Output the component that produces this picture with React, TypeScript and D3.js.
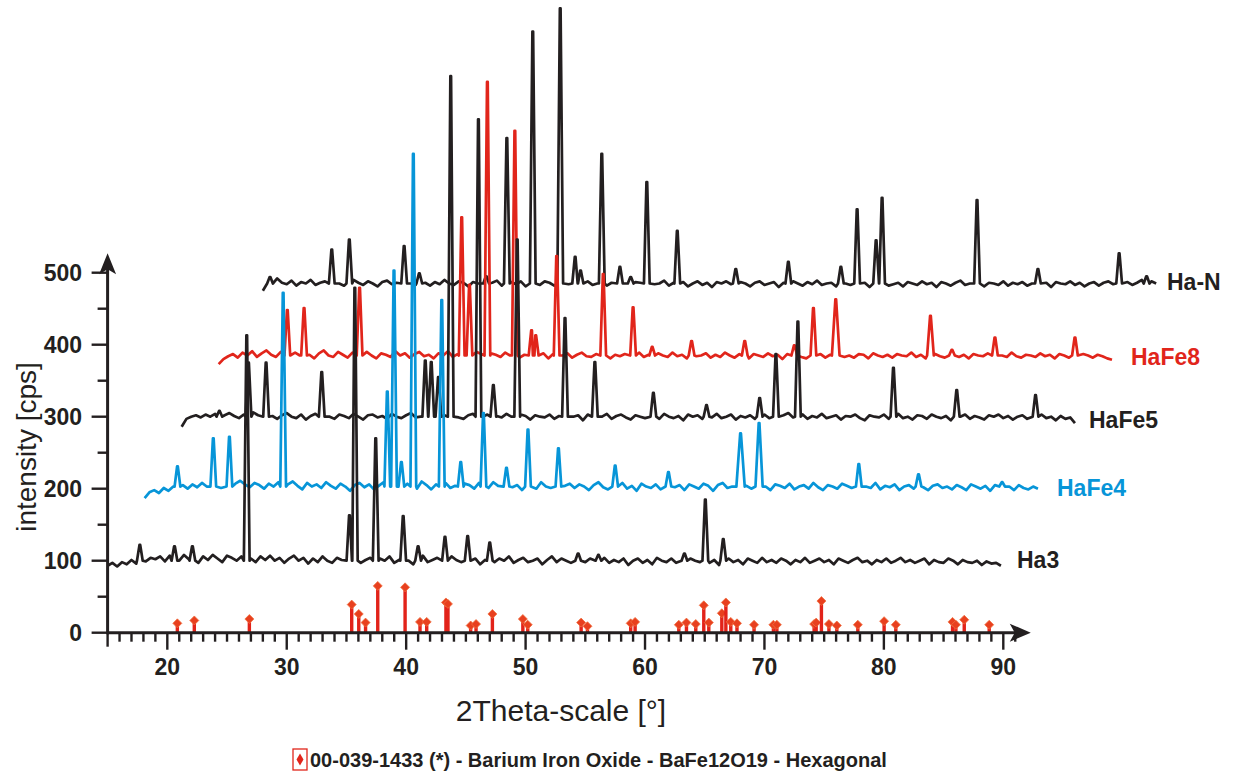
import React from 'react';
import * as d3 from 'd3';

// sample step of the typed noise arrays, in degrees 2theta
const STEP = 0.4;

// Ha3 (black, bottom)
const ha3Start = 15.0;
const ha3Base = 100;
const ha3Noise = [
  -7, -3, -8, -2, -5, 1, -4, 3, -1, 4, 2, 6, -1, 7, 3, 0, 8, 2, 4, -3,
  6, 1, 8, 3, -2, 7, 4, 0, 6, 9, 3, -2, 6, 1, 7, 0, 4, -3, 3, 7,
  0, 4, -4, 3, -2, 6, 0, -3, 4, 1, -2, 3, 6, -3, 1, 4, -2, 3, 0, 6,
  -3, 1, 4, 0, -5, 3, 7, -2, 1, 4, 0, -3, 6, 1, -2, 4, 0, 3, -5, 1,
  4, -2, 3, 0, 6, -3, 1, 4, -2, 0, 3, -5, 1, 6, -2, 3, 0, -3, 4, 1,
  -2, 3, -4, 0, 4, -3, 1, -2, 3, -6, 0, 3, -3, 1, -5, 4, 0, -2, 3, -3,
  1, -5, 3, 0, -2, 4, -3, 1, -6, 0, 3, -2, 1, -5, 3, 0, -3, 4, -2, 1,
  -3, 3, 0, -5, 1, -2, 4, -3, 0, 3, -2, 1, -5, 3, 0, -3, 1, 4, -2, 0,
  -5, 1, -2, 3, -3, 0, 4, -2, 1, -3, 0, 3, -5, 1, -2, -3, 3, 0, -5, 1,
  -2, -3, 0, -6, -1, -4, -3, -7,
];
// [2theta, top intensity, half width]
const ha3Peaks = [
  [17.7, 122], [20.6, 120], [22.1, 120], [26.65, 413], [35.25, 163], [35.7, 479],
  [37.45, 270], [39.75, 162], [41.0, 120], [43.25, 133], [45.15, 134], [47.0, 125],
  [54.4, 110], [56.1, 108], [63.3, 110], [65.05, 185], [66.55, 130],
];

// HaFe4 (blue)
const hafe4Start = 18.1;
const hafe4Base = 203;
const hafe4Noise = [
  -16, -8, -5, -9, -2, -6, 0, -4, 2, -3, 3, -1, 5, 0, 7, 2, -2, 6, 1, 4,
  8, 3, -1, 5, 2, -3, 4, 0, 6, -2, 3, 7, 1, -4, 5, 0, 3, -2, 6, 1,
  -3, 4, 0, -6, 2, 5, -1, 3, -4, 1, 6, -2, 3, 0, -5, 4, 1, -3, 7, 2,
  -4, 3, 0, 5, -2, 1, -6, 4, 2, -3, 5, 0, -2, 6, 1, -4, 3, -1, 2, -5,
  4, 1, -3, 6, 0, -2, 3, -6, 1, 4, -2, 3, 0, -5, 2, 6, -1, -4, 3, 0,
  5, -3, 1, -6, 4, 0, -2, 3, -4, 1, 6, -1, 2, -5, 3, 0, -3, 4, 1, -6,
  2, 5, -2, 0, -4, 3, 1, -3, 6, -1, 0, -5, 3, 1, -2, 4, -4, 0, 2, -3,
  5, -1, -5, 2, 0, -3, 4, 1, -2, -6, 3, 0, -2, 5, -4, 1, -1, 3, -5, 0,
  2, -3, 4, -1, -5, 1, 3, -2, 0, -4, 2, -1, -5, 3, 0, -3, 1, -6, 2, -1,
  -3, 0, -5, 2, -2, -4, 0, -3,
];
const hafe4Peaks = [
  [20.85, 231], [23.85, 270], [25.2, 272], [29.7, 472], [38.42, 335], [38.98, 503],
  [39.6, 237], [40.6, 665], [42.98, 462], [44.57, 237], [46.47, 305], [48.4, 229],
  [50.2, 282], [52.75, 256], [57.5, 232], [61.96, 223], [68.0, 277, 0.35],
  [69.55, 291, 0.3], [77.9, 234], [82.9, 220], [89.9, 209],
];

// HaFe5 (black)
const hafe5Start = 21.2;
const hafe5Base = 300;
const hafe5Noise = [
  -14, -3, 0, 2, -1, 3, 0, 4, -2, 2, 5, 1, -2, 3, 0, 6, 2, -1, 4, 1,
  -3, 2, 5, 0, -2, 3, -4, 1, 4, -1, 2, 0, -3, 3, 1, -2, 4, 0, -4, 2,
  3, -1, 1, -3, 4, 0, -2, 2, 5, -1, 0, 3, -2, 1, -4, 2, 0, 3, -1, -3,
  2, 4, -2, 0, 3, -3, 1, -1, 4, 0, -2, 3, 1, -4, 2, 0, -1, 3, -3, 1,
  4, -2, 0, 2, -5, 3, 1, -2, 0, 4, -3, 1, 3, -1, -4, 2, 0, -2, 3, 1,
  -3, 4, 0, -2, 1, -5, 3, 0, 2, -3, 1, -1, 4, -2, 0, 3, -4, 1, -1, 2,
  -3, 0, 3, -2, 1, -4, 2, 5, -1, 0, 3, -3, 1, -1, 4, -2, 0, 2, -4, 1,
  0, 3, -2, -5, 2, 0, -1, 3, -3, 1, 4, -2, 0, -4, 2, 1, -3, 3, 0, -2,
  1, -5, 2, 0, 3, -3, 1, -1, -4, 2, 0, 3, -2, 1, -4, 0, 2, -3, 1, -1,
  3, -2, 0, -5, 1, -3, -1, -9,
];
const hafe5Peaks = [
  [24.36, 308], [26.8, 375], [28.27, 375], [32.93, 362], [41.6, 378], [42.1, 376],
  [42.7, 355], [43.73, 773], [46.05, 713], [47.3, 344], [49.3, 546], [53.3, 437],
  [55.8, 376], [60.7, 333], [65.15, 316], [69.6, 326], [70.96, 387], [72.8, 432],
  [80.8, 368], [86.1, 337], [92.7, 330],
];

// HaFe8 (red)
const hafe8Start = 24.3;
const hafe8Base = 385;
const hafe8Noise = [
  -12, -5, -1, 2, -3, 4, 0, 6, -2, 3, 7, 1, -2, 5, 2, -3, 4, 0, 6, 1,
  -4, 3, 7, 0, -2, 5, 1, -3, 4, 2, -1, 5, 0, -4, 3, 1, -2, 6, 0, 3,
  -3, 2, 5, -1, 1, -4, 3, 0, 6, -2, 2, 4, -1, 0, 5, 2, -3, 3, 1, -2,
  4, 0, 2, -3, 1, 5, -1, 0, 3, -4, 2, -2, 0, 3, -3, 1, 4, -1, -2, 2,
  0, 3, -4, 1, -1, 2, -3, 0, 4, -2, 1, -3, 3, 0, -2, 4, -1, 1, -4, 2,
  -1, 0, 3, -3, 1, -2, 4, 0, -3, 2, 1, -4, 2, 0, -2, 3, -1, 1, -5, 2,
  0, 3, -2, -4, 1, 0, 2, -3, 1, -1, 4, -2, 0, -3, 2, 1, -4, 3, 0, -2,
  1, -3, 2, 0, -1, 4, -2, 1, -4, 0, 2, -1, -3, 3, 0, -2, 1, -4, 2, 0,
  -1, 3, -3, 1, 0, -2, 4, -1, -3, 1, 0, -2, 3, -1, 1, -4, 2, 0, -3, 1,
  -2, 2, 0, -3, 1, -1, -4, -6,
];
const hafe8Peaks = [
  [30.05, 448], [31.45, 451], [36.1, 479], [44.65, 577], [45.3, 483], [46.8, 765],
  [49.1, 697], [50.5, 420], [50.85, 413], [52.6, 523], [56.5, 498], [59.0, 452],
  [60.6, 397], [63.9, 405], [68.35, 405], [72.5, 399], [74.1, 451], [75.97, 463, 0.32],
  [83.9, 440, 0.28], [85.7, 393], [89.3, 410], [96.0, 410],
];

// Ha-N (black, top)
const haNStart = 28.0;
const haNBase = 485;
const haNNoise = [
  -10, -2, 3, 7, 1, -1, 4, -3, 2, 0, 5, -2, 1, 3, -1, 4, 0, -3, 2, 5,
  1, -2, 3, 0, -4, 2, 4, -1, 1, -3, 3, 0, -2, 4, 1, -3, 2, -1, 5, 0,
  -2, 3, 1, -4, 2, 0, 3, -2, 1, 4, -3, 0, 2, -1, 3, -4, 1, 0, -2, 3,
  1, -3, 4, 0, -1, 2, -4, 1, 3, -2, 0, 4, -3, 1, -1, 3, 0, -5, 2, 1,
  -2, 3, -1, 0, 4, -3, 1, -1, 2, -4, 0, 3, -2, 1, -5, 2, 0, 3, -1, -3,
  2, 0, -4, 1, 3, -2, 0, 2, -5, 1, -1, 3, 0, -3, 2, -1, 4, -2, 0, 1,
  -4, 2, 0, -2, 3, -1, 1, -5, 2, 0, 3, -3, -1, 1, -4, 2, 0, -2, 3, -1,
  1, -5, 2, 0, -3, 1, 4, -2, 0, -1, 2, -4, 1, 0, -2, 3, -3, 1, -1, 2,
  -3, 0, 4, -2, 1, -5, 2, 0, -1, 3, -2, 1, -4, 0, 2, -3, 1, 3, -1, -4,
  0, 2, -2, 1, 5, -1, 3, 0,
];
const haNPeaks = [
  [28.6, 494], [33.77, 532], [35.24, 546], [39.83, 537], [41.1, 499], [46.7, 495],
  [48.43, 687], [50.6, 835], [52.9, 867], [54.15, 522], [54.6, 503], [56.38, 665],
  [57.9, 508], [58.8, 494], [60.15, 626], [62.7, 558], [67.6, 505], [72.0, 515],
  [76.4, 508], [77.76, 588], [79.35, 545], [79.85, 604], [87.8, 601], [92.9, 505],
  [99.7, 527], [102.0, 495],
];

// reference pattern 00-039-1433, BaFe12O19
const refPos = [
  20.84, 22.26, 26.87, 35.44, 36.03, 36.6, 37.62, 39.91, 41.16, 41.72, 43.33, 43.5,
  45.4, 45.85, 47.22, 49.77, 50.18, 54.65, 55.18, 58.8, 59.17, 62.83, 63.47, 64.25,
  64.92, 65.34, 66.43, 66.77, 67.18, 67.7, 69.13, 70.75, 71.04, 74.16, 74.33, 74.77,
  75.4, 76.06, 77.82, 80.02, 81.0, 85.75, 86.03, 86.73, 88.82,
];
const refInt = [
  13, 17, 19, 39, 26, 14, 65, 63, 15, 15, 42, 40, 10, 12, 26, 19, 11, 14, 9, 13,
  15, 11, 14, 12, 38, 14, 27, 42, 15, 13, 11, 11, 11, 12, 14, 44, 12, 10, 11, 16,
  11, 15, 11, 18, 11,
];

const xTickLabels = [20, 30, 40, 50, 60, 70, 80, 90];
const yTickLabels = [0, 100, 200, 300, 400, 500];

const BLACK = '#231f20';
const BLUE = '#0795d8';
const RED = '#e1251b';
const FONT = '"Liberation Sans", Arial, sans-serif';

function tracePoints(start: number, base: number, noise: number[], peaks: number[][]) {
  const pts: [number, number][] = [];
  noise.forEach((n, i) => {
    const t = start + i * STEP;
    const hit = peaks.some((p) => Math.abs(t - p[0]) < (p[2] ?? 0.24) + 0.06);
    if (!hit) pts.push([t, base + n]);
  });
  peaks.forEach((p) => {
    const w = p[2] ?? 0.24;
    pts.push([p[0] - w, base], [p[0] - 0.03, p[1]], [p[0] + 0.03, p[1]], [p[0] + w, base]);
  });
  return pts.sort((a, b) => a[0] - b[0]);
}

export default function App() {
  const x = d3.scaleLinear().domain([15, 90]).range([107.6, 1003.3]);
  const y = d3.scaleLinear().domain([0, 500]).range([632.7, 272.7]);
  const line = d3
    .line<[number, number]>()
    .x((d) => x(d[0]))
    .y((d) => y(d[1]));

  // drawn from the top trace down, so lower traces lie over upper ones
  const traces = [
    { name: 'Ha-N', color: BLACK, pts: tracePoints(haNStart, haNBase, haNNoise, haNPeaks), lx: 1167, ly: 290 },
    { name: 'HaFe8', color: RED, pts: tracePoints(hafe8Start, hafe8Base, hafe8Noise, hafe8Peaks), lx: 1131, ly: 365 },
    { name: 'HaFe5', color: BLACK, pts: tracePoints(hafe5Start, hafe5Base, hafe5Noise, hafe5Peaks), lx: 1089, ly: 428 },
    { name: 'HaFe4', color: BLUE, pts: tracePoints(hafe4Start, hafe4Base, hafe4Noise, hafe4Peaks), lx: 1057, ly: 496 },
    { name: 'Ha3', color: BLACK, pts: tracePoints(ha3Start, ha3Base, ha3Noise, ha3Peaks), lx: 1017, ly: 568 },
  ];

  const x0 = x(15);
  const y0 = y(0);
  const xEnd = x(92.3);
  const yTop = y(527);
  const ticks = d3.range(15, 92);
  const minorY = d3.range(50, 500, 100);

  return (
    <svg width={1233} height={774} style={{ position: 'absolute', left: 0, top: 0, background: '#fff' }}>
      {/* traces */}
      {traces.map((t) => (
        <path
          key={t.name}
          d={line(t.pts) || ''}
          fill="none"
          stroke={t.color}
          strokeWidth={2.7}
          strokeLinejoin="round"
        />
      ))}
      {traces.map((t) => (
        <text
          key={t.name + '-l'}
          x={t.lx}
          y={t.ly}
          fill={t.color}
          fontFamily={FONT}
          fontWeight="bold"
          fontSize={23}
        >
          {t.name}
        </text>
      ))}

      {/* reference sticks */}
      {refPos.map((p, i) => (
        <g key={'r' + i}>
          <rect x={x(p) - 1.7} y={y(refInt[i]) + 2} width={3.4} height={y0 - y(refInt[i]) - 2} fill="#e2231a" />
          <path
            d={`M${x(p)},${y(refInt[i]) - 4.5}L${x(p) + 4.5},${y(refInt[i])}L${x(p)},${y(refInt[i]) + 4.5}L${x(p) - 4.5},${y(refInt[i])}Z`}
            fill="#e8401f"
            stroke="#f07040"
            strokeWidth={0.8}
          />
        </g>
      ))}

      {/* x axis */}
      <line x1={x0} x2={xEnd - 14} y1={y0} y2={y0} stroke={BLACK} strokeWidth={3} />
      <path
        d={`M${xEnd},${y0}L${xEnd - 21},${y0 - 9}L${xEnd - 16},${y0}L${xEnd - 21},${y0 + 9}Z`}
        fill={BLACK}
      />
      {ticks.map((t) => {
        const major = t % 10 === 0;
        const len = t === 15 ? 14 : major ? 17 : 9;
        return (
          <line key={'xt' + t} x1={x(t)} x2={x(t)} y1={y0} y2={y0 + len} stroke={BLACK} strokeWidth={2.4} />
        );
      })}
      {xTickLabels.map((t) => (
        <text
          key={'xl' + t}
          x={x(t)}
          y={675}
          textAnchor="middle"
          fontFamily={FONT}
          fontWeight="bold"
          fontSize={23}
          fill={BLACK}
        >
          {t}
        </text>
      ))}

      {/* y axis */}
      <line x1={x0} x2={x0} y1={y0 + 1.5} y2={yTop + 14} stroke={BLACK} strokeWidth={3} />
      <path
        d={`M${x0},${yTop}L${x0 - 8.5},${yTop + 21}L${x0},${yTop + 16}L${x0 + 8.5},${yTop + 21}Z`}
        fill={BLACK}
      />
      {yTickLabels.map((t) => (
        <line key={'yt' + t} x1={x0 - 16} x2={x0} y1={y(t)} y2={y(t)} stroke={BLACK} strokeWidth={2.4} />
      ))}
      {minorY.map((t) => (
        <line key={'ym' + t} x1={x0 - 10} x2={x0} y1={y(t)} y2={y(t)} stroke={BLACK} strokeWidth={2.4} />
      ))}
      {yTickLabels.map((t) => (
        <text
          key={'yl' + t}
          x={82}
          y={y(t) + 8}
          textAnchor="end"
          fontFamily={FONT}
          fontWeight="bold"
          fontSize={23}
          fill={BLACK}
        >
          {t}
        </text>
      ))}

      {/* axis titles */}
      <text
        transform="translate(36,447) rotate(-90)"
        textAnchor="middle"
        fontFamily={FONT}
        fontSize={28}
        fill={BLACK}
      >
        intensity [cps]
      </text>
      <text x={561} y={721} textAnchor="middle" fontFamily={FONT} fontSize={30} fill={BLACK}>
        2Theta-scale [°]
      </text>

      {/* legend */}
      <rect x={293} y={749} width={14} height={21} fill="#fff" stroke={RED} strokeWidth={1.3} />
      <path d="M300,753.5L303.5,759.5L300,765.5L296.5,759.5Z" fill={RED} />
      <text x={310} y={767} fontFamily={FONT} fontWeight="bold" fontSize={20} fill={BLACK}>
        00-039-1433 (*) - Barium Iron Oxide - BaFe12O19 - Hexagonal
      </text>
    </svg>
  );
}
